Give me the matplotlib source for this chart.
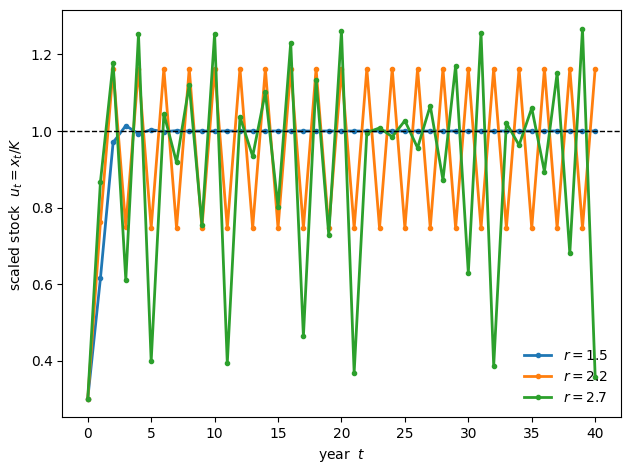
import numpy as np
from matplotlib import pyplot as plt

years = np.arange(0, 41)

# r = 1.5 : settles at 1
u_r15 = [0.300, 0.615, 0.970, 1.0139, 0.9928, 1.0035, 0.9982, 1.0009, 0.99955, 1.0002,
         0.9999, 1.00005, 0.99997, 1.0, 1.0, 1.0, 1.0, 1.0, 1.0, 1.0,
         1.0, 1.0, 1.0, 1.0, 1.0, 1.0, 1.0, 1.0, 1.0, 1.0,
         1.0, 1.0, 1.0, 1.0, 1.0, 1.0, 1.0, 1.0, 1.0, 1.0, 1.0]

# r = 2.2 : two-cycle
u_r22 = [0.300, 0.762, 1.1610, 0.7498, 1.1625, 0.7469, 1.1628, 0.7464, 1.1628, 0.7463,
         1.1628, 0.7462, 1.1628, 0.7462, 1.1628, 0.7462, 1.1628, 0.7462, 1.1628, 0.7462,
         1.1628, 0.7462, 1.1628, 0.7462, 1.1628, 0.7462, 1.1628, 0.7462, 1.1628, 0.7462,
         1.1628, 0.7462, 1.1628, 0.7462, 1.1628, 0.7462, 1.1628, 0.7462, 1.1628, 0.7462, 1.1628]

# r = 2.7 : irregular
u_r27 = [0.300, 0.867, 1.178, 0.611, 1.253, 0.398, 1.045, 0.918, 1.121, 0.755,
         1.254, 0.393, 1.037, 0.934, 1.101, 0.801, 1.231, 0.463, 1.134, 0.728,
         1.262, 0.368, 0.996, 1.008, 0.985, 1.027, 0.956, 1.066, 0.872, 1.171,
         0.629, 1.257, 0.386, 1.021, 0.963, 1.060, 0.894, 1.151, 0.680, 1.267, 0.358]

series = [(1.5, u_r15), (2.2, u_r22), (2.7, u_r27)]

fig, ax = plt.subplots(figsize=(6.3, 4.7), dpi=100)
fig.subplots_adjust(left=0.099, right=0.985, bottom=0.112, top=0.978)

for r, u in series:
    ax.plot(years, u, marker=".", lw=2, label=f"$r = {r}$")

ax.axhline(1.0, color="black", ls="--", lw=1)

ax.set_xlabel("year  $t$")
ax.set_ylabel("scaled stock  $u_t = x_t/K$")
ax.legend(loc="lower right", frameon=False)

fig.savefig("out.png")
